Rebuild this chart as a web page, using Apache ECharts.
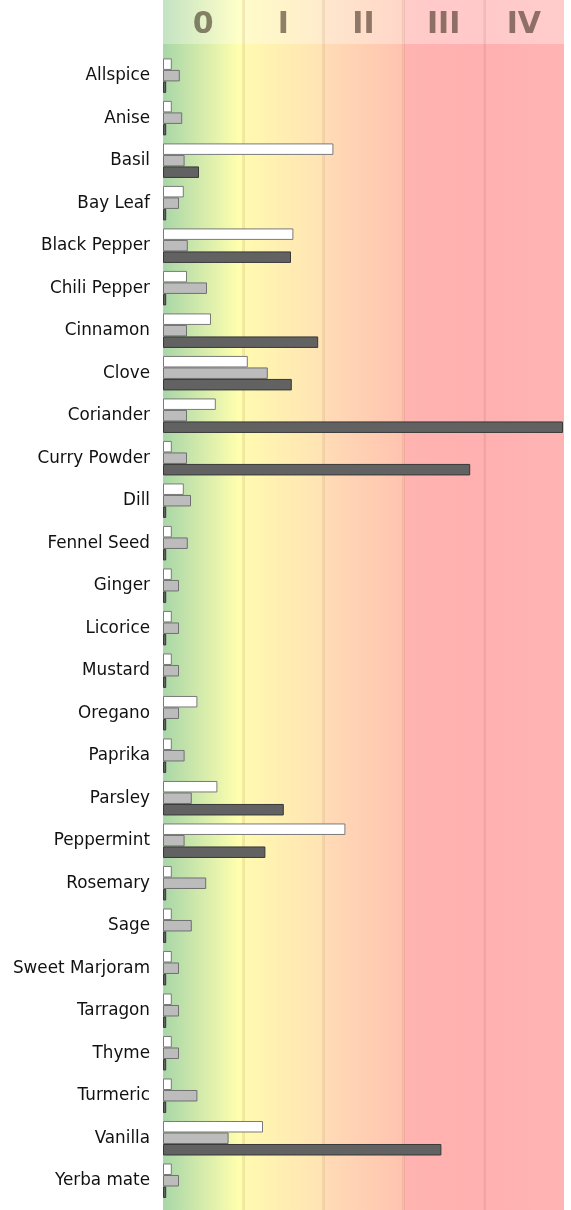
<!DOCTYPE html>
<html>
<head>
<meta charset="utf-8">
<script src="https://cdn.jsdelivr.net/npm/echarts@6/dist/echarts.min.js"></script>
<style>
  html, body { margin: 0; padding: 0; background: #fff; }
  #main { width: 571px; height: 1210px; }
</style>
</head>
<body>
<div id="main"></div>
<script>
// 数据
var categories = ['Allspice', 'Anise', 'Basil', 'Bay Leaf', 'Black Pepper', 'Chili Pepper', 'Cinnamon',
  'Clove', 'Coriander', 'Curry Powder', 'Dill', 'Fennel Seed', 'Ginger', 'Licorice', 'Mustard',
  'Oregano', 'Paprika', 'Parsley', 'Peppermint', 'Rosemary', 'Sage', 'Sweet Marjoram', 'Tarragon',
  'Thyme', 'Turmeric', 'Vanilla', 'Yerba mate'];
var levels = ['0', 'I', 'II', 'III', 'IV'];
var whiteVals = [0.11, 0.11, 2.13, 0.26, 1.63, 0.30, 0.60, 1.06, 0.66, 0.11, 0.26, 0.11, 0.11, 0.11,
  0.11, 0.43, 0.11, 0.68, 2.28, 0.11, 0.11, 0.11, 0.11, 0.11, 0.11, 1.25, 0.11];
var grayVals = [0.21, 0.24, 0.27, 0.20, 0.31, 0.55, 0.30, 1.31, 0.30, 0.30, 0.35, 0.31, 0.20, 0.20,
  0.20, 0.20, 0.27, 0.36, 0.27, 0.54, 0.36, 0.20, 0.20, 0.20, 0.43, 0.82, 0.20];
var darkVals = [0.04, 0.04, 0.45, 0.04, 1.60, 0.04, 1.94, 1.61, 5.00, 3.84, 0.04, 0.04, 0.04, 0.04,
  0.04, 0.04, 0.04, 1.51, 1.28, 0.04, 0.04, 0.04, 0.04, 0.04, 0.04, 3.48, 0.04];
var bandColors = [
  ['#a8d6a8', '#ffffae'],
  ['#fffab0', '#ffe4b4'],
  ['#ffdcb6', '#ffc4b0'],
  ['#ffb4b0', '#ffb0b0'],
  ['#ffb0b0', '#ffb4b4']
];

(function(){
  var myChart = echarts.init(document.getElementById('main'));

  function grad(c) {
    return new echarts.graphic.LinearGradient(0, 0, 1, 0, [
      { offset: 0, color: c[0] },
      { offset: 0.95, color: c[1] },
      { offset: 1, color: c[1] }
    ]);
  }

  var bandAreas = bandColors.map(function (c, i) {
    return [{ xAxis: i, itemStyle: { color: grad(c) } }, { xAxis: i + 1 }];
  });

  var barBase = {
    type: 'bar',
    xAxisIndex: 2,
    yAxisIndex: 2,
    barWidth: 11.5,
    barGap: '0%',
    z: 5,
    silent: true
  };

  var option = {
    animation: false,
    grid: [
      { left: 163, right: 7, top: 0, bottom: 0 },
      { left: 163, right: 7, top: 0, height: 44 },
      { left: 163, right: 8, top: 54.4, bottom: 8 }
    ],
    xAxis: [
      { gridIndex: 0, type: 'value', min: 0, max: 5, show: false },
      { gridIndex: 1, type: 'category', data: levels, position: 'bottom', z: 10,
        axisLine: { show: false }, axisTick: { show: false },
        axisLabel: { margin: -19, verticalAlign: 'middle',
          fontSize: 30, fontWeight: 'bold', fontFamily: 'DejaVu Sans',
          color: 'rgba(60,45,30,0.58)' } },
      { gridIndex: 2, type: 'value', min: 0, max: 5, show: false },
      { gridIndex: 1, type: 'value', min: 0, max: 5, show: false, position: 'top' }
    ],
    yAxis: [
      { gridIndex: 0, type: 'value', min: 0, max: 1, show: false },
      { gridIndex: 1, type: 'value', min: 0, max: 1, show: false },
      { gridIndex: 2, type: 'category', data: categories, inverse: true,
        axisLine: { show: false }, axisTick: { show: false },
        axisLabel: { margin: 13, fontSize: 16.8, fontFamily: 'DejaVu Sans', color: '#111',
          padding: [0, 0, 8, 0] } }
    ],
    series: [
      {
        type: 'line', xAxisIndex: 0, yAxisIndex: 0, data: [], z: 0, silent: true,
        markArea: { silent: true, data: bandAreas },
        markLine: {
          silent: true, symbol: 'none', label: { show: false },
          lineStyle: { type: 'solid', width: 3, color: 'rgba(140,90,60,0.12)' },
          data: [{ xAxis: 1 }, { xAxis: 2 }, { xAxis: 3 }, { xAxis: 4 }]
        }
      },
      {
        type: 'line', xAxisIndex: 3, yAxisIndex: 1, data: [], z: 1, silent: true,
        markArea: { silent: true, itemStyle: { color: 'rgba(255,255,255,0.32)' },
          data: [[{ xAxis: 0 }, { xAxis: 5 }]] }
      },
      Object.assign({}, barBase, { name: 'A', data: whiteVals,
        itemStyle: { color: '#ffffff', borderColor: '#7a7a7a', borderWidth: 1 } }),
      Object.assign({}, barBase, { name: 'B', data: grayVals,
        itemStyle: { color: '#bcbcbc', borderColor: '#707070', borderWidth: 1 } }),
      Object.assign({}, barBase, { name: 'C', data: darkVals,
        itemStyle: { color: '#626262', borderColor: '#383838', borderWidth: 1 } })
    ]
  };

  myChart.setOption(option);
  window.addEventListener("resize", function(){
    myChart.resize();
  });
})();
</script>
</body>
</html>
